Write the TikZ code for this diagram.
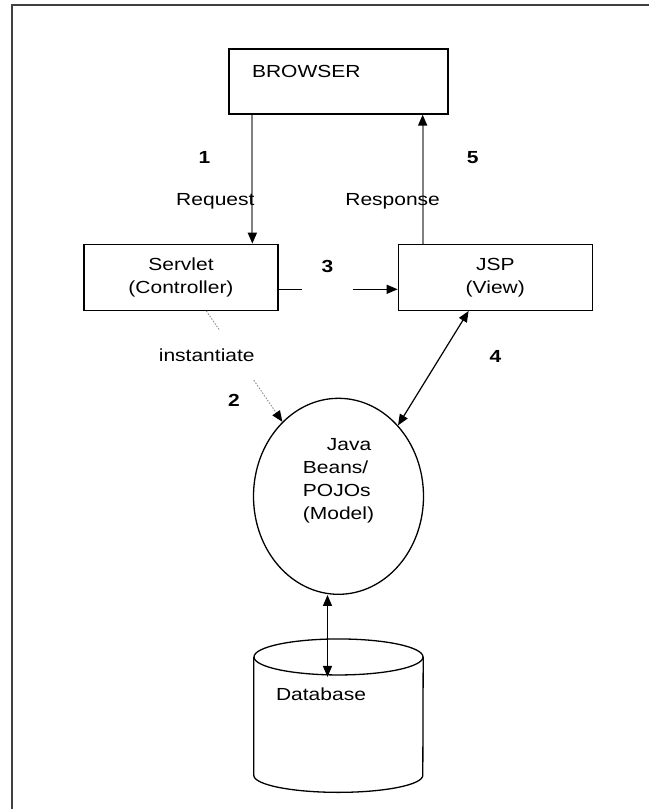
\documentclass[tikz,border=0pt]{standalone}
\usepackage{fontspec}
\setmainfont{Liberation Sans}[FakeStretch=1.2]
\usepackage{tikz}
\usetikzlibrary{
    arrows.meta,
    positioning,
    shapes.geometric
}

\begin{document}
\begin{tikzpicture}[
    x=1pt, y=1pt,
    font=\fontsize{17.5}{23}\selectfont,
    >={Triangle[length=11pt,width=9pt,color=black]},
    box_style/.style={
        draw=black,
        line width=1.3pt,
        align=center,
        minimum width=194pt,
        minimum height=66pt
    },
    model_style/.style={
        ellipse,
        draw=black,
        line width=1.3pt,
        minimum width=170pt,
        minimum height=196pt,
        inner sep=0pt,
        align=left
    },
    db_style/.style={
        minimum width=169pt,
        minimum height=153pt,
        inner sep=0pt
    },
    db_line/.style={
        draw=black,
        line width=1.3pt
    },
    num_style/.style={
        font=\fontsize{17.5}{23}\selectfont\bfseries
    },
    edge_style/.style={
        draw=black,
        line width=1.2pt
    },
    gray_edge/.style={
        draw=black!50,
        line width=1.8pt
    },
    dot_edge/.style={
        draw=black!45,
        line width=0.9pt,
        dash pattern=on 1.5pt off 1.5pt
    },
    frame_style/.style={
        draw=black!75,
        line width=1.8pt
    }
]
\useasboundingbox (0,0) rectangle (649,-809);

% --- Frame ---
\draw[frame_style] (12,-809) -- (12,-5) -- (649,-5);

% --- Nodes ---
\node[box_style, align=left, minimum height=0pt, text width=173pt,
      inner xsep=23pt, inner ysep=0pt, text height=28pt, text depth=37pt]
      (browser) at (338.5,-81.5) {BROWSER};
\node[box_style, below=129pt of browser, xshift=-157.5pt] (servlet) {Servlet\\(Controller)};
\node[box_style, right=119pt of servlet] (jsp) {JSP\\(View)};

% Model sits under the browser, text pushed up a bit
\node[model_style, below=283pt of browser, text depth=35pt] (model)
    {\hspace{24pt}Java\\Beans/\\POJOs\\(Model)};

% Database: plain box, the drum is drawn round it
\node[db_style, below=44pt of model,
      label={[xshift=-17.5pt,yshift=21.5pt]center:Database}] (db) {};
\draw[db_line] ([yshift=-18pt]db.north west) -- ([yshift=17pt]db.south west)
    arc[start angle=180, end angle=360, x radius=84.5pt, y radius=17pt]
    -- ([yshift=-18pt]db.north east);
\draw[db_line] ([yshift=-18pt]db.north) ellipse [x radius=84.5pt, y radius=18pt];

% --- Edges ---
\draw[gray_edge,->] ([xshift=24pt]browser.south west) -- ([xshift=24pt]browser.south west |- servlet.north)
    node[num_style, pos=0.33, xshift=-48pt] {1}
    node[pos=0.67, xshift=-37pt] {Request};
\draw[gray_edge,->] ([xshift=25pt]jsp.north west) -- ([xshift=25pt]jsp.north west |- browser.south)
    node[pos=0.33, xshift=-30pt] {Response}
    node[num_style, pos=0.67, xshift=50pt] {5};

% Servlet forwards to the JSP (line has a gap)
\draw[edge_style,->,dash pattern=on 23pt off 51pt on 200pt]
    ([yshift=-12pt]servlet.east) -- ([yshift=-12pt]servlet.east -| jsp.west)
    node[num_style, pos=0.41, yshift=23pt] {3};

% instantiate is dotted
\draw[dot_edge,->] ([xshift=123pt]servlet.south west) -- (model.127)
    node[pos=0.4, xshift=-30pt, fill=white, minimum height=50pt] {instantiate}
    node[num_style, pos=0.81, xshift=-34pt] {2};

\draw[edge_style,<->] ([xshift=71pt]jsp.south west) -- (model.50)
    node[num_style, pos=0.4, xshift=55pt] {4};
\draw[edge_style,<->] ([xshift=-11pt]model.south) -- ([xshift=-11pt,yshift=-38pt]db.north);

\end{tikzpicture}
\end{document}
